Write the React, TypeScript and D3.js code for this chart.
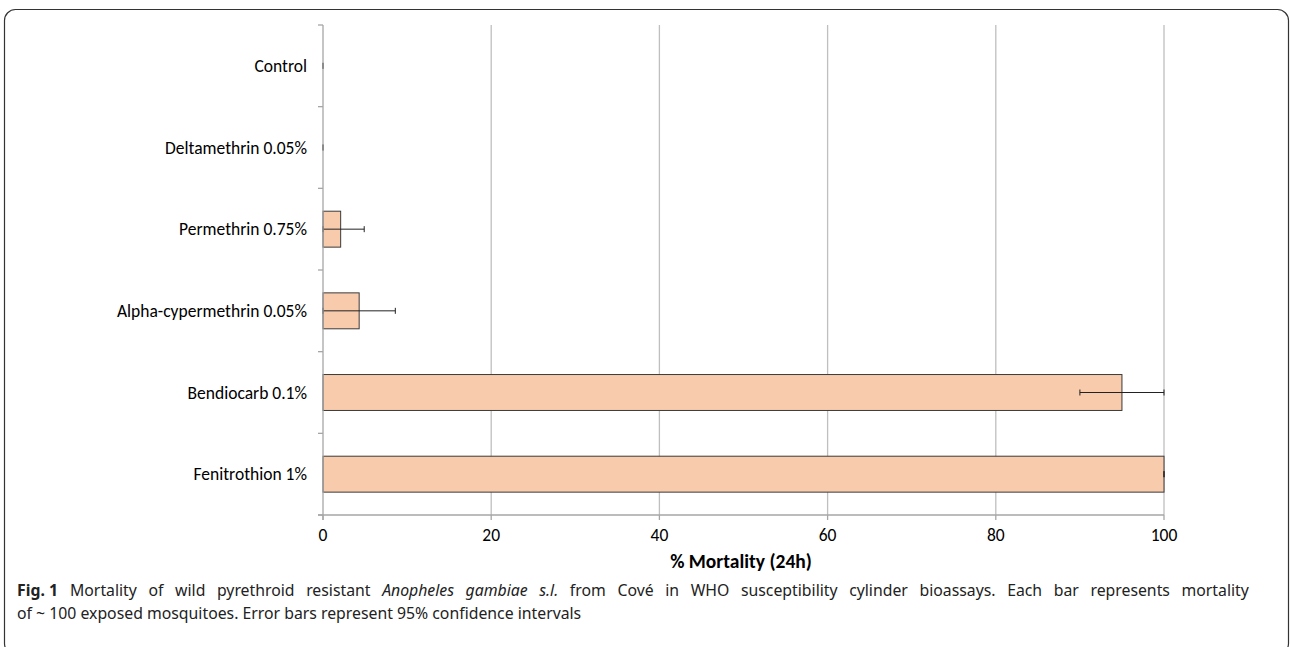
import React from "react";
import * as d3 from "d3";

const categories = [
  "Control",
  "Deltamethrin 0.05%",
  "Permethrin 0.75%",
  "Alpha-cypermethrin 0.05%",
  "Bendiocarb 0.1%",
  "Fenitrothion 1%",
];
const mortality = [0, 0, 2.1, 4.3, 95, 100];
const ciLow = [0, 0, 0, 0, 90, 100];
const ciHigh = [0, 0, 4.9, 8.6, 100, 100];
const xTicks = [0, 20, 40, 60, 80, 100];
const xTitle = "% Mortality (24h)";

const W = 1290;
const H = 647;
const plot = { left: 323, right: 1164, top: 25, bottom: 515 };

export default function App() {
  const x = d3.scaleLinear().domain([0, 100]).range([plot.left, plot.right]);
  const y = d3
    .scaleBand<string>()
    .domain(categories)
    .range([plot.top, plot.bottom])
    .paddingInner(0.56)
    .paddingOuter(0.28);
  const bandStep = (plot.bottom - plot.top) / categories.length;
  const catFont = "Carlito, Calibri, 'Liberation Sans', sans-serif";
  const capFont = "'Noto Sans', 'Open Sans', sans-serif";
  const gridColor = "#bfbfbf";
  const axisColor = "#a6a6a6";

  return (
    <svg
      width={W}
      height={H}
      style={{ position: "absolute", left: 0, top: 0, display: "block", background: "#fff" }}
    >
      <rect x={4.5} y={9.5} width={1284} height={645} rx={11} ry={11} fill="none" stroke="#333" strokeWidth={1.2} />
      {/* gridlines */}
      {xTicks.slice(1).map((t) => (
        <line key={"g" + t} x1={x(t)} x2={x(t)} y1={plot.top} y2={plot.bottom} stroke={gridColor} strokeWidth={1.3} />
      ))}
      {/* bars */}
      {categories.map((c, i) => {
        const y0 = y(c)!;
        const bw = y.bandwidth();
        const cy = y0 + bw / 2;
        return (
          <g key={c}>
            <rect
              x={x(0)}
              y={y0}
              width={x(mortality[i]) - x(0)}
              height={bw}
              fill="#f8cbad"
              stroke="#3a3a3a"
              strokeWidth={1}
            />
            <line x1={x(ciLow[i])} x2={x(ciHigh[i])} y1={cy} y2={cy} stroke="#222" strokeWidth={1} />
            <line x1={x(ciLow[i])} x2={x(ciLow[i])} y1={cy - 3} y2={cy + 3} stroke="#222" strokeWidth={1} />
            <line x1={x(ciHigh[i])} x2={x(ciHigh[i])} y1={cy - 3} y2={cy + 3} stroke="#222" strokeWidth={1} />
          </g>
        );
      })}
      {/* y axis */}
      <line x1={plot.left} x2={plot.left} y1={plot.top} y2={plot.bottom + 5} stroke={axisColor} strokeWidth={1.3} />
      {d3.range(categories.length + 1).map((k) => (
        <line
          key={"yt" + k}
          x1={plot.left - 5}
          x2={plot.left}
          y1={plot.top + k * bandStep}
          y2={plot.top + k * bandStep}
          stroke={axisColor}
          strokeWidth={1.3}
        />
      ))}
      {categories.map((c) => (
        <text
          key={"l" + c}
          x={307}
          y={y(c)! + y.bandwidth() / 2}
          dy="0.35em"
          textAnchor="end"
          fontFamily={catFont}
          fontSize={17.5}
          fill="#000"
        >
          {c}
        </text>
      ))}
      {/* x axis */}
      <line x1={plot.left - 5} x2={plot.right} y1={plot.bottom} y2={plot.bottom} stroke={axisColor} strokeWidth={1.3} />
      {xTicks.map((t) => (
        <g key={"xt" + t}>
          <line x1={x(t)} x2={x(t)} y1={plot.bottom} y2={plot.bottom + 5} stroke={axisColor} strokeWidth={1.3} />
          <text x={x(t)} y={541} textAnchor="middle" fontFamily={catFont} fontSize={17.5} fill="#000">
            {t}
          </text>
        </g>
      ))}
      <text x={741} y={568} textAnchor="middle" fontFamily={catFont} fontSize={19.5} fontWeight="bold" fill="#000">
        {xTitle}
      </text>
      {/* caption */}
      <text x={17} y={596} fontFamily={capFont} fontSize={15.8} fill="#222" wordSpacing={7.5}>
        <tspan fontWeight="bold" wordSpacing={0}>Fig. 1</tspan>
        <tspan dx={12}>Mortality of wild pyrethroid resistant </tspan>
        <tspan fontStyle="italic">Anopheles gambiae s.l.</tspan>
        <tspan> from Cové in WHO susceptibility cylinder bioassays. Each bar represents mortality</tspan>
      </text>
      <text x={17} y={619} fontFamily={capFont} fontSize={15.8} fill="#222">
        of ~ 100 exposed mosquitoes. Error bars represent 95% confidence intervals
      </text>
    </svg>
  );
}
